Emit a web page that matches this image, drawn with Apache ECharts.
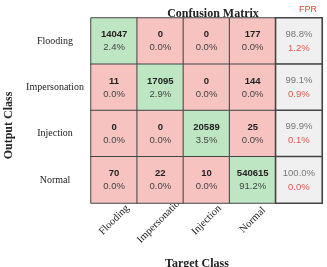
<!DOCTYPE html>
<html>
<head>
<meta charset="utf-8">
<script src="https://cdn.jsdelivr.net/npm/echarts@6/dist/echarts.min.js"></script>
<style>
  html, body { margin: 0; padding: 0; background: #fff; }
  #chart { width: 327px; height: 267px; }
</style>
</head>
<body>
<div id="chart"></div>
<script>
// rows = output class, columns = target class
var classes = ["Flooding", "Impersonation", "Injection", "Normal"];
var counts = [
  [14047, 0, 0, 177],
  [11, 17095, 0, 144],
  [0, 0, 20589, 25],
  [70, 22, 10, 540615]
];
var percents = [
  ["2.4%", "0.0%", "0.0%", "0.0%"],
  ["0.0%", "2.9%", "0.0%", "0.0%"],
  ["0.0%", "0.0%", "3.5%", "0.0%"],
  ["0.0%", "0.0%", "0.0%", "91.2%"]
];
var accuracy = ["98.8%", "99.1%", "99.9%", "100.0%"];
var fpr = ["1.2%", "0.9%", "0.1%", "0.0%"];

var serif = "Liberation Serif";
var sans = "Liberation Sans";

var cells = [];
for (var r = 0; r < classes.length; r++) {
  for (var c = 0; c < classes.length; c++) {
    cells.push({
      value: [c, r, counts[r][c]],
      itemStyle: { color: r === c ? "#bfe6c3" : "#f6c3c1" },
      label: {
        formatter: "{n|" + counts[r][c] + "}\n{p|" + percents[r][c] + "}"
      }
    });
  }
  // last column: accuracy / FPR
  cells.push({
    value: [4, r, 0],
    itemStyle: { color: "#f0f0f0", borderWidth: 1.6 },
    label: {
      formatter: "{a|" + accuracy[r] + "}\n{f|" + fpr[r] + "}"
    }
  });
}

var myChart = echarts.init(document.getElementById("chart"));
var option = {
  animation: false,
  title: [
    {
      text: "Confusion Matrix",
      left: 208,
      top: 3,
      textAlign: "center",
      textStyle: { fontFamily: serif, fontSize: 12, fontWeight: "bold", color: "#222" }
    },
    {
      text: "FPR",
      left: 303,
      top: 0,
      textAlign: "center",
      textStyle: { fontFamily: sans, fontSize: 9, fontWeight: "normal", color: "#e8403a" }
    }
  ],
  grid: { left: 91, right: 5, top: 18, bottom: 64, outerBoundsMode: "none" },
  xAxis: {
    type: "category",
    data: classes.concat([""]),
    name: "Target Class",
    nameLocation: "middle",
    nameGap: 55,
    nameTextStyle: {
      fontFamily: serif, fontSize: 12, fontWeight: "bold", color: "#222",
      padding: [0, 19, 0, 0]
    },
    axisLine: { show: false },
    axisTick: { show: false },
    axisLabel: {
      rotate: 45,
      margin: 17,
      align: "center",
      verticalAlign: "middle",
      fontFamily: serif,
      fontSize: 10.5,
      color: "#222"
    },
    splitLine: { show: false }
  },
  yAxis: {
    type: "category",
    inverse: true,
    data: classes,
    name: "Output Class",
    nameLocation: "middle",
    nameGap: 73,
    nameRotate: 90,
    nameTextStyle: {
      fontFamily: serif, fontSize: 12, fontWeight: "bold", color: "#222",
      padding: [0, 30, 0, 0]
    },
    axisLine: { show: false },
    axisTick: { show: false },
    axisLabel: { margin: 36, align: "center", fontFamily: serif, fontSize: 10, color: "#222" },
    splitLine: { show: false }
  },
  series: [
    {
      type: "heatmap",
      data: cells,
      itemStyle: { borderColor: "#444", borderWidth: 1 },
      label: {
        show: true,
        lineHeight: 13,
        rich: {
          n: { fontFamily: sans, fontSize: 9.5, fontWeight: "bold", color: "#222", lineHeight: 13 },
          p: { fontFamily: sans, fontSize: 9.5, color: "#444", lineHeight: 13 },
          a: { fontFamily: sans, fontSize: 9.5, color: "#777", lineHeight: 14 },
          f: { fontFamily: sans, fontSize: 9.5, color: "#e8554f", lineHeight: 14 }
        }
      },
      emphasis: { disabled: true }
    }
  ]
};
myChart.setOption(option);
</script>
</body>
</html>
